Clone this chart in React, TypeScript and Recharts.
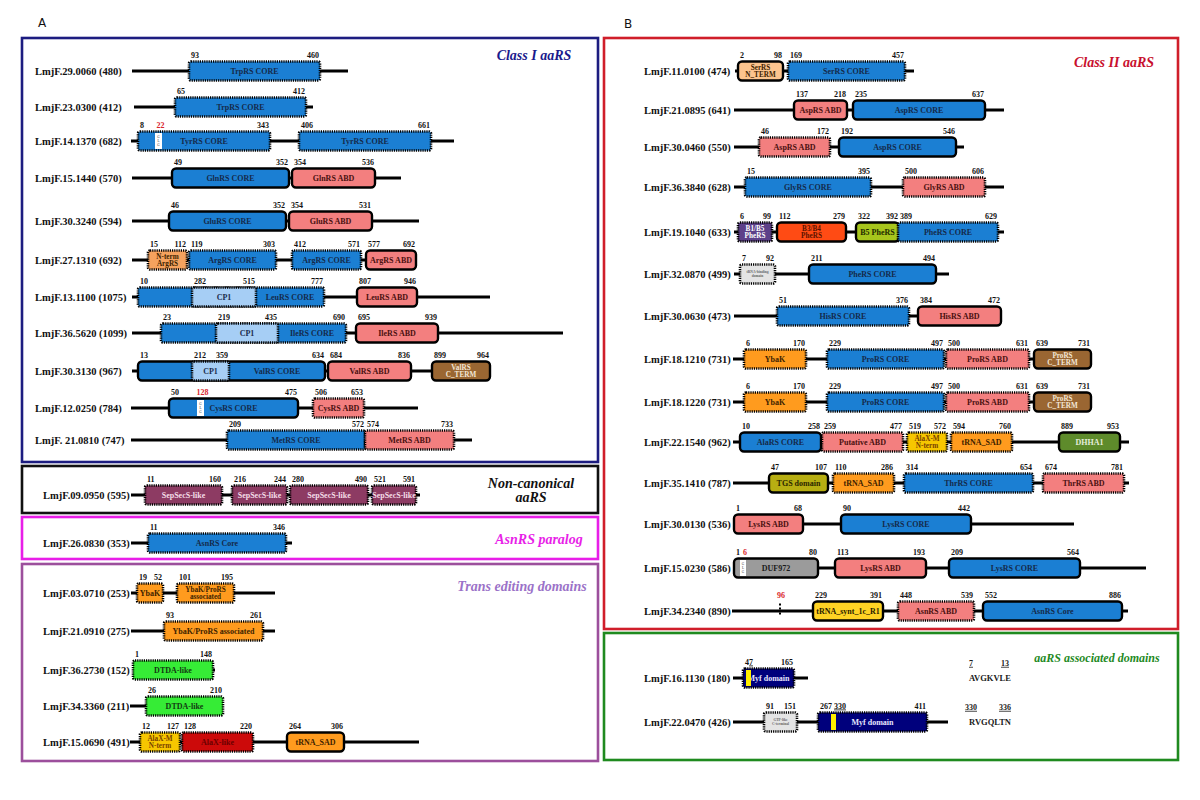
import React from 'react';
import { ScatterChart, Scatter, XAxis, YAxis, ReferenceArea, ReferenceDot } from 'recharts';

const FONT = "'Liberation Serif', 'Times New Roman', serif";
const W = 1200;
const H = 800;

// proteins, top to bottom: panel A then panel B
const proteinIds = [
  'LmjF.29.0060', 'LmjF.23.0300', 'LmjF.14.1370', 'LmjF.15.1440', 'LmjF.30.3240', 'LmjF.27.1310',
  'LmjF.13.1100', 'LmjF.36.5620', 'LmjF.30.3130', 'LmjF.12.0250', 'LmjF. 21.0810',
  'LmjF.09.0950',
  'LmjF.26.0830',
  'LmjF.03.0710', 'LmjF.21.0910', 'LmjF.36.2730', 'LmjF.34.3360', 'LmjF.15.0690',
  'LmjF.11.0100', 'LmjF.21.0895', 'LmjF.30.0460', 'LmjF.36.3840', 'LmjF.19.1040', 'LmjF.32.0870',
  'LmjF.30.0630', 'LmjF.18.1210', 'LmjF.18.1220', 'LmjF.22.1540', 'LmjF.35.1410', 'LmjF.30.0130',
  'LmjF.15.0230', 'LmjF.34.2340',
  'LmjF.16.1130', 'LmjF.22.0470',
];
const proteinLengths = [
  480, 412, 682, 570, 594, 692, 1075, 1099, 967, 784, 747,
  595,
  353,
  253, 275, 152, 211, 491,
  474, 641, 550, 628, 633, 499, 473, 731, 731, 962, 787, 536, 586, 890,
  180, 426,
];
// vertical position of each protein row (diagram units)
const rowPos = [
  71, 107, 141, 178, 221, 260, 297, 333, 371, 408, 440,
  495,
  543,
  593, 631, 670, 706, 742,
  71, 110, 147, 187, 232, 274, 316, 359, 402, 442, 483, 524, 568, 611,
  678, 722,
];
// drawn extent of each backbone (diagram units, not residues: the figure is not to scale)
const backbone: [number, number][] = [
  [132, 348], [134, 313], [131, 454], [132, 401], [132, 419], [132, 416], [132, 490], [132, 563], [132, 490], [131, 418], [131, 472],
  [131, 420],
  [131, 292],
  [131, 275], [131, 275], [133, 215], [130, 223], [130, 419],
  [735, 914], [734, 1004], [734, 964], [734, 1004], [734, 1004], [734, 949], [734, 1002], [733, 1091], [733, 1091], [733, 1129], [733, 1129], [733, 1074], [733, 1146], [732, 1128],
  [733, 808], [733, 948],
];

type Dom = { p: string; from: number; to: number; name: string; kind: string; dotted?: boolean; a?: number | string; b?: number | string };

const classIDomains: Dom[] = [
  { p: 'LmjF.29.0060', from: 189, to: 320, name: 'TrpRS CORE', kind: 'core', dotted: true, a: 93, b: 460 },
  { p: 'LmjF.23.0300', from: 175, to: 306, name: 'TrpRS CORE', kind: 'core', dotted: true, a: 65, b: 412 },
  { p: 'LmjF.14.1370', from: 138, to: 270, name: 'TyrRS CORE', kind: 'core', dotted: true, a: 8, b: 343 },
  { p: 'LmjF.14.1370', from: 299, to: 431, name: 'TyrRS CORE', kind: 'core', dotted: true, a: 406, b: 661 },
  { p: 'LmjF.15.1440', from: 172, to: 289, name: 'GlnRS CORE', kind: 'core', a: 49, b: 352 },
  { p: 'LmjF.15.1440', from: 292, to: 375, name: 'GlnRS ABD', kind: 'abd', a: 354, b: 536 },
  { p: 'LmjF.30.3240', from: 169, to: 286, name: 'GluRS CORE', kind: 'core', a: 46, b: 352 },
  { p: 'LmjF.30.3240', from: 289, to: 372, name: 'GluRS ABD', kind: 'abd', a: 354, b: 531 },
  { p: 'LmjF.27.1310', from: 148, to: 187, name: 'N-term\nArgRS', kind: 'nterm', dotted: true, a: 15, b: 112 },
  { p: 'LmjF.27.1310', from: 189, to: 276, name: 'ArgRS CORE', kind: 'core', dotted: true, a: 119, b: 303 },
  { p: 'LmjF.27.1310', from: 292, to: 361, name: 'ArgRS CORE', kind: 'core', dotted: true, a: 412, b: 571 },
  { p: 'LmjF.27.1310', from: 366, to: 416, name: 'ArgRS ABD', kind: 'abd', a: 577, b: 692 },
  { p: 'LmjF.13.1100', from: 138, to: 324, name: 'LeuRS CORE', kind: 'core', dotted: true, a: 10, b: 777 },
  { p: 'LmjF.13.1100', from: 192, to: 256, name: 'CP1', kind: 'cp1', dotted: true, a: 282, b: 515 },
  { p: 'LmjF.13.1100', from: 357, to: 417, name: 'LeuRS ABD', kind: 'abd', a: 807, b: 946 },
  { p: 'LmjF.36.5620', from: 161, to: 346, name: 'IleRS CORE', kind: 'core', dotted: true, a: 23, b: 690 },
  { p: 'LmjF.36.5620', from: 216, to: 278, name: 'CP1', kind: 'cp1', dotted: true, a: 219, b: 435 },
  { p: 'LmjF.36.5620', from: 356, to: 438, name: 'IleRS ABD', kind: 'abd', a: 695, b: 939 },
  { p: 'LmjF.30.3130', from: 138, to: 325, name: 'ValRS CORE', kind: 'core', a: 13, b: 634 },
  { p: 'LmjF.30.3130', from: 192, to: 229, name: 'CP1', kind: 'cp1', dotted: true, a: 212, b: 359 },
  { p: 'LmjF.30.3130', from: 328, to: 411, name: 'ValRS ABD', kind: 'abd', a: 684, b: 836 },
  { p: 'LmjF.30.3130', from: 432, to: 490, name: 'ValRS\nC_TERM', kind: 'cterm', a: 899, b: 964 },
  { p: 'LmjF.12.0250', from: 169, to: 298, name: 'CysRS CORE', kind: 'core', a: 50, b: 475 },
  { p: 'LmjF.12.0250', from: 313, to: 364, name: 'CysRS ABD', kind: 'abd', dotted: true, a: 506, b: 653 },
  { p: 'LmjF. 21.0810', from: 227, to: 365, name: 'MetRS CORE', kind: 'core', dotted: true, a: 209, b: 572 },
  { p: 'LmjF. 21.0810', from: 365, to: 454, name: 'MetRS ABD', kind: 'abd', dotted: true, a: 574, b: 733 },
];

const nonCanonicalDomains: Dom[] = [
  { p: 'LmjF.09.0950', from: 145, to: 222, name: 'SepSecS-like', kind: 'sepsecs', dotted: true, a: 11, b: 160 },
  { p: 'LmjF.09.0950', from: 232, to: 287, name: 'SepSecS-like', kind: 'sepsecs', dotted: true, a: 216, b: 244 },
  { p: 'LmjF.09.0950', from: 290, to: 368, name: 'SepSecS-like', kind: 'sepsecs', dotted: true, a: 280, b: 490 },
  { p: 'LmjF.09.0950', from: 372, to: 416, name: 'SepSecS-like', kind: 'sepsecs', dotted: true, a: 521, b: 591 },
];

const paralogDomains: Dom[] = [
  { p: 'LmjF.26.0830', from: 148, to: 286, name: 'AsnRS Core', kind: 'core', dotted: true, a: 11, b: 346 },
];

const transDomains: Dom[] = [
  { p: 'LmjF.03.0710', from: 137, to: 163, name: 'YbaK', kind: 'ybak', dotted: true, a: 19, b: 52 },
  { p: 'LmjF.03.0710', from: 177, to: 234, name: 'YbaK/ProRS\nassociated', kind: 'ybak', dotted: true, a: 101, b: 195 },
  { p: 'LmjF.21.0910', from: 164, to: 263, name: 'YbaK/ProRS associated', kind: 'ybak', dotted: true, a: 93, b: 261 },
  { p: 'LmjF.36.2730', from: 133, to: 213, name: 'DTDA-like', kind: 'dtda', dotted: true, a: 1, b: 148 },
  { p: 'LmjF.34.3360', from: 146, to: 223, name: 'DTDA-like', kind: 'dtda', dotted: true, a: 26, b: 210 },
  { p: 'LmjF.15.0690', from: 140, to: 180, name: 'AlaX-M\nN-term', kind: 'alaxm', dotted: true, a: 12, b: 127 },
  { p: 'LmjF.15.0690', from: 182, to: 253, name: 'AlaX-like', kind: 'alax', dotted: true, a: 128, b: 220 },
  { p: 'LmjF.15.0690', from: 287, to: 344, name: 'tRNA_SAD', kind: 'ybak', a: 264, b: 306 },
];

const classIIDomains: Dom[] = [
  { p: 'LmjF.11.0100', from: 738, to: 783, name: 'SerRS\nN_TERM', kind: 'sern', a: 2, b: 98 },
  { p: 'LmjF.11.0100', from: 788, to: 905, name: 'SerRS CORE', kind: 'core', dotted: true, a: 169, b: 457 },
  { p: 'LmjF.21.0895', from: 794, to: 847, name: 'AspRS ABD', kind: 'abd', a: 137, b: 218 },
  { p: 'LmjF.21.0895', from: 853, to: 985, name: 'AspRS CORE', kind: 'core', a: 235, b: 637 },
  { p: 'LmjF.30.0460', from: 759, to: 830, name: 'AspRS ABD', kind: 'abd', dotted: true, a: 46, b: 172 },
  { p: 'LmjF.30.0460', from: 839, to: 956, name: 'AspRS CORE', kind: 'core', a: 192, b: 546 },
  { p: 'LmjF.36.3840', from: 745, to: 871, name: 'GlyRS CORE', kind: 'core', dotted: true, a: 15, b: 395 },
  { p: 'LmjF.36.3840', from: 903, to: 985, name: 'GlyRS ABD', kind: 'abd', dotted: true, a: 500, b: 606 },
  { p: 'LmjF.19.1040', from: 738, to: 772, name: 'B1/B5\nPheRS', kind: 'b1b5', dotted: true, a: 6, b: 99 },
  { p: 'LmjF.19.1040', from: 777, to: 846, name: 'B3/B4\nPheRS', kind: 'b3b4', a: 112, b: 279 },
  { p: 'LmjF.19.1040', from: 856, to: 899, name: 'B5 PheRS', kind: 'b5', a: 322, b: 392 },
  { p: 'LmjF.19.1040', from: 898, to: 998, name: 'PheRS CORE', kind: 'core', dotted: true, a: 389, b: 629 },
  { p: 'LmjF.32.0870', from: 740, to: 775, name: 'tRNA-binding\ndomain', kind: 'gray', dotted: true, a: 7, b: 92 },
  { p: 'LmjF.32.0870', from: 809, to: 936, name: 'PheRS CORE', kind: 'core', a: 211, b: 494 },
  { p: 'LmjF.30.0630', from: 777, to: 909, name: 'HisRS CORE', kind: 'core', dotted: true, a: 51, b: 376 },
  { p: 'LmjF.30.0630', from: 918, to: 1001, name: 'HisRS ABD', kind: 'abd', a: 384, b: 472 },
  { p: 'LmjF.18.1210', from: 744, to: 806, name: 'YbaK', kind: 'ybak', dotted: true, a: 6, b: 170 },
  { p: 'LmjF.18.1210', from: 827, to: 944, name: 'ProRS CORE', kind: 'core', dotted: true, a: 229, b: 497 },
  { p: 'LmjF.18.1210', from: 946, to: 1029, name: 'ProRS ABD', kind: 'abd', dotted: true, a: 500, b: 631 },
  { p: 'LmjF.18.1210', from: 1034, to: 1091, name: 'ProRS\nC_TERM', kind: 'cterm', a: 639, b: 731 },
  { p: 'LmjF.18.1220', from: 744, to: 806, name: 'YbaK', kind: 'ybak', dotted: true, a: 6, b: 170 },
  { p: 'LmjF.18.1220', from: 827, to: 944, name: 'ProRS CORE', kind: 'core', dotted: true, a: 229, b: 497 },
  { p: 'LmjF.18.1220', from: 946, to: 1029, name: 'ProRS ABD', kind: 'abd', dotted: true, a: 500, b: 631 },
  { p: 'LmjF.18.1220', from: 1034, to: 1091, name: 'ProRS\nC_TERM', kind: 'cterm', a: 639, b: 731 },
  { p: 'LmjF.22.1540', from: 740, to: 821, name: 'AlaRS CORE', kind: 'core', a: 10, b: 258 },
  { p: 'LmjF.22.1540', from: 822, to: 903, name: 'Putative ABD', kind: 'abd', dotted: true, a: 259, b: 477 },
  { p: 'LmjF.22.1540', from: 907, to: 947, name: 'AlaX-M\nN-term', kind: 'alaxm', dotted: true, a: 519, b: 572 },
  { p: 'LmjF.22.1540', from: 951, to: 1012, name: 'tRNA_SAD', kind: 'ybak', dotted: true, a: 594, b: 760 },
  { p: 'LmjF.22.1540', from: 1059, to: 1120, name: 'DHHA1', kind: 'dhha1', a: 889, b: 953 },
  { p: 'LmjF.35.1410', from: 769, to: 828, name: 'TGS domain', kind: 'tgs', a: 47, b: 107 },
  { p: 'LmjF.35.1410', from: 833, to: 894, name: 'tRNA_SAD', kind: 'ybak', dotted: true, a: 110, b: 286 },
  { p: 'LmjF.35.1410', from: 904, to: 1033, name: 'ThrRS CORE', kind: 'core', dotted: true, a: 314, b: 654 },
  { p: 'LmjF.35.1410', from: 1043, to: 1124, name: 'ThrRS ABD', kind: 'abd', dotted: true, a: 674, b: 781 },
  { p: 'LmjF.30.0130', from: 734, to: 803, name: 'LysRS ABD', kind: 'abd', a: 1, b: 68 },
  { p: 'LmjF.30.0130', from: 841, to: 971, name: 'LysRS CORE', kind: 'core', a: 90, b: 442 },
  { p: 'LmjF.15.0230', from: 734, to: 818, name: 'DUF972', kind: 'duf', a: 1, b: 80 },
  { p: 'LmjF.15.0230', from: 835, to: 926, name: 'LysRS ABD', kind: 'abd', a: 113, b: 193 },
  { p: 'LmjF.15.0230', from: 949, to: 1080, name: 'LysRS CORE', kind: 'core', a: 209, b: 564 },
  { p: 'LmjF.34.2340', from: 813, to: 883, name: 'tRNA_synt_1c_R1', kind: 'synt', a: 229, b: 391 },
  { p: 'LmjF.34.2340', from: 898, to: 974, name: 'AsnRS ABD', kind: 'abd', dotted: true, a: 448, b: 539 },
  { p: 'LmjF.34.2340', from: 983, to: 1122, name: 'AsnRS Core', kind: 'core', a: 552, b: 886 },
];

const associatedDomains: Dom[] = [
  { p: 'LmjF.16.1130', from: 743, to: 794, name: 'Myf domain', kind: 'myf', dotted: true, a: 4, b: 165 },
  { p: 'LmjF.22.0470', from: 764, to: 797, name: 'GTP-like\nC-terminal', kind: 'gray', dotted: true, a: 91, b: 151 },
  { p: 'LmjF.22.0470', from: 818, to: 927, name: 'Myf domain', kind: 'myf', dotted: true, a: 267, b: 411 },
];

// single-residue marks: inserts (notch), gaps (tick) and motif positions (bar)
const marks = [
  { p: 'LmjF.14.1370', from: 155, to: 162, label: '22', kind: 'notch' },
  { p: 'LmjF.12.0250', from: 197, to: 204, label: '128', kind: 'notch' },
  { p: 'LmjF.15.0230', from: 740, to: 746, label: '6', kind: 'notch' },
  { p: 'LmjF.34.2340', from: 779, to: 781, label: '96', kind: 'tick' },
  { p: 'LmjF.16.1130', from: 746, to: 751, label: '7', kind: 'bar' },
  { p: 'LmjF.22.0470', from: 831, to: 836, label: '330', kind: 'bar' },
];

const motifs = [
  { p: 'LmjF.16.1130', first: 7, last: 13, seq: 'AVGKVLE' },
  { p: 'LmjF.22.0470', first: 330, last: 336, seq: 'RVGQLTN' },
];

const kindStyle: Record<string, { fill: string; text: string }> = {
  core: { fill: '#1b7fd3', text: '#152a4a' },
  abd: { fill: '#f37f7f', text: '#4a1010' },
  cp1: { fill: '#a6cef5', text: '#1a2c4c' },
  ybak: { fill: '#ff9b1e', text: '#3d2200' },
  nterm: { fill: '#f5a25e', text: '#3d2200' },
  cterm: { fill: '#9a6632', text: '#f3e6d6' },
  sepsecs: { fill: '#8d3b63', text: '#f4dde8' },
  dtda: { fill: '#36ec36', text: '#123a12' },
  alaxm: { fill: '#f7c600', text: '#7a4200' },
  alax: { fill: '#cc0a0a', text: '#6a0000' },
  sern: { fill: '#fcc48e', text: '#3d2200' },
  b1b5: { fill: '#5d4089', text: '#ffffff' },
  b3b4: { fill: '#ff4b14', text: '#5a1200' },
  b5: { fill: '#a7c51c', text: '#1e2a00' },
  gray: { fill: '#e4e4e4', text: '#666666' },
  dhha1: { fill: '#5e8b2b', text: '#e6eedc' },
  tgs: { fill: '#b7ae12', text: '#2a2600' },
  synt: { fill: '#ffd324', text: '#2a2200' },
  duf: { fill: '#9b9b9b', text: '#1a1a1a' },
  myf: { fill: '#00007c', text: '#e6e6ff' },
};

const panels = [
  { title: ['Class I aaRS'], color: '#1c1c80', titleColor: '#1a1a8c', box: [22, 598, 38, 462], titleAt: [534, 55], size: 14, rows: [0, 11], labelX: 35 },
  { title: ['Non-canonical', 'aaRS'], color: '#111111', titleColor: '#111111', box: [22, 598, 466, 513], titleAt: [531, 490], size: 14, rows: [11, 12], labelX: 43 },
  { title: ['AsnRS paralog'], color: '#e81ee8', titleColor: '#e81ee8', box: [22, 598, 517, 559], titleAt: [539, 539], size: 14, rows: [12, 13], labelX: 43 },
  { title: ['Trans editing domains'], color: '#9c4f9c', titleColor: '#9b72c8', box: [22, 598, 564, 761], titleAt: [522, 586], size: 14, rows: [13, 18], labelX: 43 },
  { title: ['Class II aaRS'], color: '#d01e2a', titleColor: '#c8102e', box: [604, 1178, 38, 629], titleAt: [1114, 62], size: 14, rows: [18, 32], labelX: 644 },
  { title: ['aaRS associated domains'], color: '#1f8a1f', titleColor: '#1f8a1f', box: [604, 1178, 633, 760], titleAt: [1097, 658], size: 12, rows: [32, 34], labelX: 644 },
];

const HALF = 9.5;
const rowOf = (id: string) => rowPos[proteinIds.indexOf(id)];

const numStyle = { fontFamily: FONT, fontWeight: 'bold' as const, fontSize: 8, fill: '#111111' };

const domainShape = (dom: Dom, frac: number) => (props: any) => {
  const { x, y, width, height } = props;
  if (x == null || width == null) return <g />;
  const st = kindStyle[dom.kind];
  const lines = dom.name.split('\n');
  const tiny = dom.kind === 'gray';
  const fs = tiny ? 3.6 : lines.length > 1 ? 7.2 : 8;
  const cx = x + width * frac;
  const cy = y + height / 2;
  const lh = fs * 1.1;
  return (
    <g>
      <rect
        x={x}
        y={y}
        width={width}
        height={height}
        rx={dom.dotted ? 2 : 4}
        fill={st.fill}
        stroke="#000"
        strokeWidth={dom.dotted ? 2.6 : 2.4}
        strokeDasharray={dom.dotted ? '1.2 1' : undefined}
      />
      <text textAnchor="middle" fontFamily={FONT} fontWeight="bold" fontSize={fs} fill={st.text}>
        {lines.map((ln, k) => (
          <tspan key={k} x={cx} y={cy + fs * 0.35 + (k - (lines.length - 1) / 2) * lh}>{ln}</tspan>
        ))}
      </text>
      {dom.a != null && <text x={x + 2} y={y - 4} {...numStyle}>{dom.a}</text>}
      {dom.b != null && <text x={x + width - 1} y={y - 4} textAnchor="end" {...numStyle}>{dom.b}</text>}
    </g>
  );
};

const markShape = (kind: string, label: string) => (props: any) => {
  const { x, y, width, height } = props;
  if (x == null) return <g />;
  const red = '#d9262c';
  if (kind === 'tick') {
    return (
      <g>
        <rect x={x} y={y + 2} width={2} height={2} fill="#000" />
        <rect x={x} y={y + 6} width={2} height={2} fill="#000" />
        <rect x={x} y={y + 11} width={2} height={2} fill="#000" />
        <text x={x + 2} y={y - 4} textAnchor="middle" {...numStyle} fill={red}>{label}</text>
      </g>
    );
  }
  if (kind === 'bar') {
    return (
      <g>
        <rect x={x} y={y + 1.5} width={width} height={height - 3} fill="#ffee00" />
        <text x={x + 3} y={y - 4} {...numStyle} textDecoration="underline">{label}</text>
      </g>
    );
  }
  return (
    <g>
      <rect x={x} y={y + 1.5} width={width} height={height - 3} fill="#ffffff" />
      <text x={x + width / 2} textAnchor="middle" fontFamily={FONT} fontSize={3.4} fill="#333">
        <tspan x={x + width / 2} y={y + height / 2 - 3}>G</tspan>
        <tspan x={x + width / 2} y={y + height / 2 + 1}>L</tspan>
        <tspan x={x + width / 2} y={y + height / 2 + 5}>G</tspan>
      </text>
      <text x={x + width / 2 + 2} y={y - 4} textAnchor="middle" {...numStyle} fill={red}>{label}</text>
    </g>
  );
};

const textShape = (lines: string[], opts: any) => (props: any) => {
  const { cx, cy } = props;
  if (cx == null) return <g />;
  const lh = opts.fontSize * 1.05;
  return (
    <text textAnchor={opts.anchor || 'middle'} fontFamily={opts.family || FONT} fontSize={opts.fontSize} fontWeight={opts.weight || 'bold'} fontStyle={opts.style} fill={opts.fill} textDecoration={opts.underline ? 'underline' : undefined}>
      {lines.map((ln, k) => (
        <tspan key={k} x={cx} y={cy + opts.fontSize * 0.35 + (k - (lines.length - 1) / 2) * lh}>{ln}</tspan>
      ))}
    </text>
  );
};

const ProteinLabel = (props: any) => {
  const { cx, cy, payload } = props;
  return (
    <text x={cx} y={cy + 4} fontFamily={FONT} fontWeight="bold" fontSize={10.5} fill="#111">{payload.label}</text>
  );
};

export default function App() {
  const allDomains = [...classIDomains, ...nonCanonicalDomains, ...paralogDomains, ...transDomains, ...classIIDomains, ...associatedDomains];

  const labelPoints = proteinIds.map((id, i) => {
    const panel = panels.find((pn) => i >= pn.rows[0] && i < pn.rows[1])!;
    return { x: panel.labelX, y: rowPos[i], label: `${id} (${proteinLengths[i]})` };
  });

  // centre the name in the part of the domain right of any nested domain (e.g. CP1)
  const textFrac = (d: Dom) => {
    const inner = allDomains.filter((o) => o !== d && o.p === d.p && o.from >= d.from && o.to <= d.to);
    if (!inner.length) return 0.5;
    const start = Math.max(...inner.map((o) => o.to));
    return ((start + d.to) / 2 - d.from) / (d.to - d.from);
  };

  return (
    <div style={{ position: 'absolute', left: 0, top: 0, width: W, height: H, background: '#ffffff' }}>
      <ScatterChart width={W} height={H} margin={{ top: 0, right: 0, bottom: 0, left: 0 }}>
        <XAxis type="number" dataKey="x" domain={[0, W]} hide allowDataOverflow />
        <YAxis type="number" dataKey="y" domain={[0, H]} reversed hide allowDataOverflow />

        {panels.map((pn, i) => (
          <ReferenceArea
            key={`panel-${i}`}
            x1={pn.box[0]}
            x2={pn.box[1]}
            y1={pn.box[2]}
            y2={pn.box[3]}
            ifOverflow="visible"
            shape={(p: any) => (
              <rect x={p.x} y={p.y} width={p.width} height={p.height} fill="none" stroke={pn.color} strokeWidth={2.6} />
            )}
          />
        ))}

        {backbone.map(([a, b], i) => (
          <ReferenceArea key={`bb-${i}`} x1={a} x2={b} y1={rowPos[i] - 1.5} y2={rowPos[i] + 1.5} ifOverflow="visible" fill="#000" fillOpacity={1} stroke="none" />
        ))}

        {allDomains.map((d, i) => {
          const y = rowOf(d.p);
          return (
            <ReferenceArea key={`dom-${i}`} x1={d.from} x2={d.to} y1={y - HALF} y2={y + HALF} ifOverflow="visible" shape={domainShape(d, textFrac(d))} />
          );
        })}

        {marks.map((m, i) => {
          const y = rowOf(m.p);
          return (
            <ReferenceArea key={`mark-${i}`} x1={m.from} x2={m.to} y1={y - HALF} y2={y + HALF} ifOverflow="visible" shape={markShape(m.kind, m.label)} />
          );
        })}

        {motifs.flatMap((m, i) => {
          const y = rowOf(m.p);
          return [
            <ReferenceDot key={`mf-${i}`} x={971} y={y - 15} r={0} ifOverflow="visible" shape={textShape([String(m.first)], { fontSize: 8, fill: '#1a1a1a', underline: true })} />,
            <ReferenceDot key={`ml-${i}`} x={1005} y={y - 15} r={0} ifOverflow="visible" shape={textShape([String(m.last)], { fontSize: 8, fill: '#1a1a1a', underline: true })} />,
            <ReferenceDot key={`ms-${i}`} x={990} y={y} r={0} ifOverflow="visible" shape={textShape([m.seq], { fontSize: 8.5, fill: '#1a1a1a' })} />,
          ];
        })}

        {panels.map((pn, i) => (
          <ReferenceDot
            key={`title-${i}`}
            x={pn.titleAt[0]}
            y={pn.titleAt[1]}
            r={0}
            ifOverflow="visible"
            shape={textShape(pn.title, { fontSize: pn.size, fill: pn.titleColor, style: 'italic' })}
          />
        ))}

        <ReferenceDot x={42} y={23} r={0} ifOverflow="visible" shape={textShape(['A'], { fontSize: 12, fill: '#111', weight: 'normal', family: "'DejaVu Sans', sans-serif" })} />
        <ReferenceDot x={628} y={24} r={0} ifOverflow="visible" shape={textShape(['B'], { fontSize: 12, fill: '#111', weight: 'normal', family: "'DejaVu Sans', sans-serif" })} />

        <Scatter data={labelPoints} isAnimationActive={false} shape={ProteinLabel} />
      </ScatterChart>
    </div>
  );
}
